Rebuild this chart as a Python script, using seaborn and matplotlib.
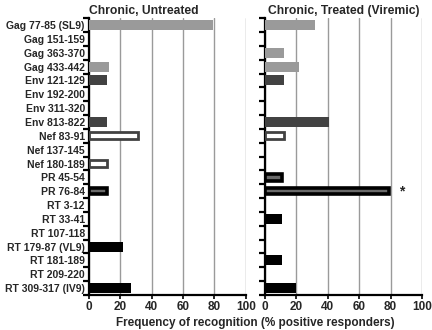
import numpy as np
import pandas as pd
import matplotlib
matplotlib.use("Agg")
import matplotlib.pyplot as plt
import seaborn as sns

# 数据
peptides = ["Gag 77-85 (SL9)", "Gag 151-159", "Gag 363-370", "Gag 433-442",
            "Env 121-129", "Env 192-200", "Env 311-320", "Env 813-822",
            "Nef 83-91", "Nef 137-145", "Nef 180-189", "PR 45-54", "PR 76-84",
            "RT 3-12", "RT 33-41", "RT 107-118", "RT 179-87 (VL9)",
            "RT 181-189", "RT 209-220", "RT 309-317 (IV9)"]
proteins = ["Gag"] * 4 + ["Env"] * 4 + ["Nef"] * 3 + ["PR"] * 2 + ["RT"] * 7
untreated = [79, 0, 0, 13, 11.5, 0, 0, 11.5, 31, 0, 11.5, 0, 11.5,
             0, 0, 0, 22, 0, 0, 26.5]
treated = [32, 0, 12, 22, 12, 0, 0, 41, 12, 0, 0, 11, 79,
           0, 11, 0, 0, 11, 0, 20]
titles = ["Chronic, Untreated", "Chronic, Treated (Viremic)"]
x_ticks = [0, 20, 40, 60, 80, 100]

# 颜色 (填充, 边框, 线宽)
styles = {"Gag": ("#9a9a9a", "#9a9a9a", 0.0),
          "Env": ("#424242", "#424242", 0.0),
          "Nef": ("#ffffff", "#424242", 2.0),
          "PR": ("#6a6a6a", "#000000", 2.6),
          "RT": ("#000000", "#000000", 0.0)}

sns.set_theme(style="white")
plt.rcParams['font.family'] = ['Liberation Sans', 'DejaVu Sans']
plt.rcParams['font.weight'] = 'bold'

fig = plt.figure(figsize=(4.32, 3.3), dpi=100)
ax1 = fig.add_axes([0.206, 0.106, 0.363, 0.839])
ax2 = fig.add_axes([0.613, 0.106, 0.364, 0.839])

bar_h = 0.72
px_per_cat = 0.839 * 330 / len(peptides)

for ax, vals, title in zip([ax1, ax2], [untreated, treated], titles):
    df = pd.DataFrame({"peptide": peptides, "freq": vals, "protein": proteins})
    pal = {p: styles[pr][0] for p, pr in zip(peptides, proteins)}
    sns.barplot(data=df, y="peptide", x="freq", hue="peptide", palette=pal,
                order=peptides, hue_order=peptides, legend=False,
                width=bar_h, saturation=1, ax=ax, zorder=3)
    for patch, pr, v in zip(ax.patches, proteins, vals):
        if v == 0:
            patch.set_visible(False)
            continue
        face, edge, lw = styles[pr]
        patch.set_edgecolor(edge)
        patch.set_linewidth(lw)
        if lw > 0:
            # 边框向内收缩, 保持外观高度
            d = lw * 100 / 72 / px_per_cat
            patch.set_y(patch.get_y() + d / 2)
            patch.set_height(patch.get_height() - d)

    ax.set_xlim(0, 100)
    ax.set_ylim(len(peptides) - 0.5, -0.5)
    ax.set_xticks(x_ticks)
    ax.set_xticklabels([str(t) for t in x_ticks], fontsize=8.5, fontweight='bold')
    ax.xaxis.grid(True, color="#9a9a9a", linewidth=1.0, zorder=0)
    ax.yaxis.grid(False)
    ax.set_axisbelow(True)
    ax.set_xlabel("")
    ax.set_ylabel("")
    for s in ["top", "right"]:
        ax.spines[s].set_visible(False)
    for s in ["left", "bottom"]:
        ax.spines[s].set_color("black")
        ax.spines[s].set_linewidth(1.6)
    ax.tick_params(axis="x", which="major", length=3, width=1.2, color="black",
                   pad=1.5, bottom=True)
    ax.set_yticks(np.arange(len(peptides)))
    ax.tick_params(axis="y", which="major", length=0, pad=3)
    ax.set_yticks(np.arange(len(peptides) + 1) - 0.5, minor=True)
    ax.tick_params(axis="y", which="minor", length=4, width=1.6, color="black",
                   left=True)

ax1.set_yticklabels(peptides, fontsize=7.5, fontweight='bold')
ax2.set_yticklabels([])
ax1.set_title(titles[0], fontsize=8.7, fontweight='bold', loc='left', pad=3)
ax2.set_title(titles[1], fontsize=8.7, fontweight='bold', pad=3)
ax2.text(87, peptides.index("PR 76-84"), "*", fontsize=10, fontweight='bold',
         ha='center', va='center')

fig.text(0.59, 0.004, "Frequency of recognition (% positive responders)",
         ha='center', va='bottom', fontsize=8.5, fontweight='bold')

fig.savefig("out.png", dpi=100)
